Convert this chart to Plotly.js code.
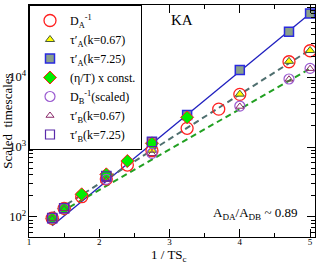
<!DOCTYPE html>
<html><head><meta charset="utf-8">
<script src="https://cdn.plot.ly/plotly-3.0.1.min.js"></script>
<style>html,body{margin:0;padding:0;background:#fff}#chart{width:318px;height:264px}</style>
</head><body><div id="chart"></div>
<script>
// Data (x = 1/TSc, y = scaled timescale)
var xDA = [1.33, 1.5, 1.75, 2.1, 2.4, 2.75, 3.25, 3.7, 4.0, 4.7, 5.0];
var yDA = [96, 133, 195, 350, 553, 886, 1850, 3480, 5660, 16560, 23770];

var xTauA067 = [1.33, 1.5, 2.1, 2.75, 4.0, 4.7, 5.0];
var yTauA067 = [96, 133, 360, 900, 5700, 16800, 24000];

var xTauA725 = [1.33, 1.5, 2.1, 2.75, 3.25, 4.0, 4.7, 5.0];
var yTauA725 = [96, 133, 385, 1192, 2866, 12590, 44400, 81000];

var xEta = [1.33, 1.5, 1.75, 2.1, 2.4, 2.75, 3.25];
var yEta = [94, 131, 211, 407, 631, 1130, 2657];

var xDB = [1.33, 1.5, 2.1, 2.75, 4.0, 4.7, 5.0];
var yDB = [96, 133, 345, 811, 3850, 9380, 13300];

var xTauB067 = [1.33, 1.5, 2.1, 2.75, 4.0, 4.7, 5.0];
var yTauB067 = [95, 131, 340, 800, 3800, 9300, 13200];

var xTauB725 = [1.33, 1.5, 2.1, 2.75];
var yTauB725 = [97, 134, 380, 1180];

// fit lines (end points)
var xFitA725 = [1.33, 5.0];
var yFitA725 = [75, 81000];
var xFitA = [1.3, 5.0];
var yFitA = [107, 24500];
var xFitB = [1.33, 5.0];
var yFitB = [100, 13200];

var serif = "Liberation Serif, Times New Roman, serif";

var traces = [
  {x: xFitA725, y: yFitA725, mode: 'lines', line: {color: '#1f1fbf', width: 1.3}, showlegend: false, hoverinfo: 'skip'},
  {x: xFitA, y: yFitA, mode: 'lines', line: {color: '#4f6f6f', width: 2, dash: '6px,4px'}, showlegend: false, hoverinfo: 'skip'},
  {x: xFitB, y: yFitB, mode: 'lines', line: {color: '#22a022', width: 2, dash: '6px,4px'}, showlegend: false, hoverinfo: 'skip'},
  {x: xDA, y: yDA, mode: 'markers', name: 'D<sub>A</sub><sup>-1</sup>',
   marker: {symbol: 'circle-open', size: 12, color: '#ff2020', line: {width: 1.3}}},
  {x: xTauA067, y: yTauA067, mode: 'markers', name: 'τ′<sub>A</sub>(k=0.67)',
   marker: {symbol: 'triangle-up', size: 8, color: '#ffff00', line: {color: '#4a5a3a', width: 1}}},
  {x: xTauA725, y: yTauA725, mode: 'markers', name: 'τ′<sub>A</sub>(k=7.25)',
   marker: {symbol: 'square', size: 9, color: '#8aa08a', line: {color: '#2a2ae0', width: 1.5}}},
  {x: xEta, y: yEta, mode: 'markers', name: '(η/T) x const.',
   marker: {symbol: 'diamond', size: 10, color: '#00ee00', line: {color: '#ff2020', width: 1}}},
  {x: xDB, y: yDB, mode: 'markers', name: 'D<sub>B</sub><sup>-1</sup>(scaled)',
   marker: {symbol: 'circle-open', size: 10, color: '#9a5ad0', line: {width: 1.2}}},
  {x: xTauB067, y: yTauB067, mode: 'markers', name: 'τ′<sub>B</sub>(k=0.67)',
   marker: {symbol: 'triangle-up-open', size: 7, color: '#8a2a6a', line: {width: 1}}},
  {x: xTauB725, y: yTauB725, mode: 'markers', name: 'τ′<sub>B</sub>(k=7.25)',
   marker: {symbol: 'square-open', size: 9, color: '#5a2aaa', line: {width: 1.2}}}
];

var layout = {
  width: 318, height: 264,
  margin: {l: 29, r: 3, t: 5, b: 27},
  paper_bgcolor: '#fff', plot_bgcolor: '#fff',
  font: {family: serif, color: '#000', size: 11},
  showlegend: true,
  legend: {x: 0, y: 1, xanchor: 'left', yanchor: 'top', bgcolor: '#fff',
           bordercolor: '#000', borderwidth: 1, font: {family: serif, size: 12, color: '#000'},
           tracegroupgap: 0, itemwidth: 30},
  xaxis: {range: [1, 5.07], showgrid: false, zeroline: false, showline: true, linecolor: '#000', linewidth: 1,
          mirror: 'allticks', ticks: 'inside', ticklen: 8, tickcolor: '#000', dtick: 1, tick0: 1,
          tickfont: {family: serif, size: 9}, ticklabelstandoff: -4,
          minor: {dtick: 0.5, ticks: 'inside', ticklen: 4, tickcolor: '#000', showgrid: false}},
  yaxis: {type: 'log', range: [1.714, 5.03], showgrid: false, zeroline: false, showline: true, linecolor: '#000', linewidth: 1,
          mirror: 'allticks', ticks: 'inside', ticklen: 8, tickcolor: '#000', dtick: 1,
          exponentformat: 'power', tickfont: {family: serif, size: 10},
          minor: {dtick: 'D1', ticks: 'inside', ticklen: 4, tickcolor: '#000', showgrid: false},
          title: {text: 'Scaled  timescales', font: {family: serif, size: 13}, standoff: 2}},
  annotations: [
    {xref: 'paper', yref: 'paper', x: 0.49, y: -0.122, xanchor: 'center', yanchor: 'bottom', showarrow: false,
     text: '1 / TS<sub>c</sub>', font: {family: serif, size: 13}, borderpad: 0},
    {xref: 'paper', yref: 'paper', x: 0.536, y: 0.935, xanchor: 'center', yanchor: 'middle', showarrow: false,
     text: 'KA', font: {family: serif, size: 15}},
    {xref: 'paper', yref: 'paper', x: 0.79, y: 0.1, xanchor: 'center', yanchor: 'middle', showarrow: false,
     text: 'A<sub>DA</sub>/A<sub>DB</sub> ~ 0.89', font: {family: serif, size: 13}}
  ]
};

Plotly.newPlot('chart', traces, layout, {staticPlot: true, displayModeBar: false});
</script></body></html>
